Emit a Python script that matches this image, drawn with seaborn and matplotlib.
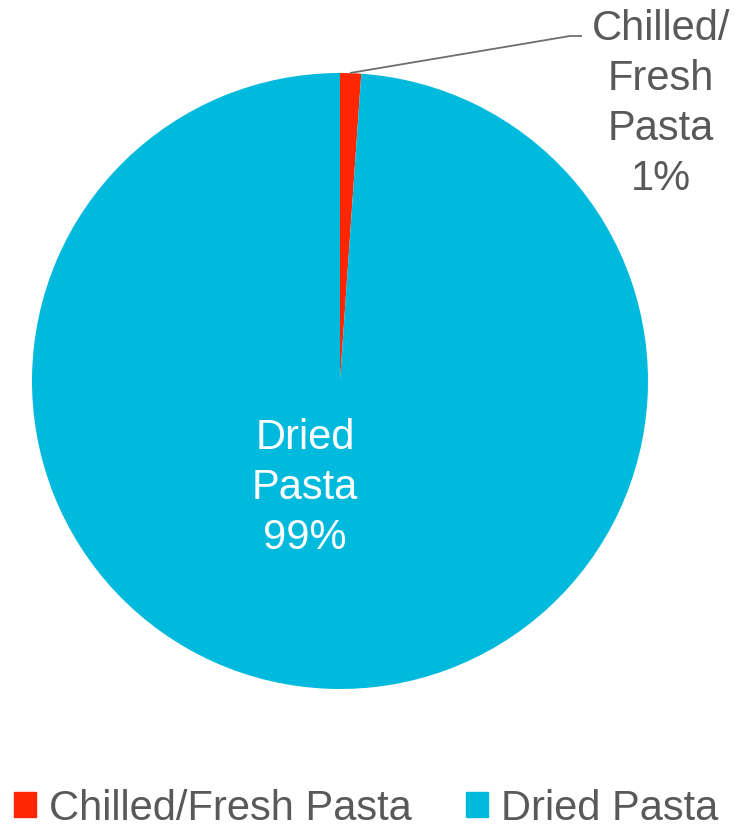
import matplotlib
matplotlib.use("Agg")
import matplotlib.pyplot as plt
import seaborn as sns

categories = ["Chilled/Fresh Pasta", "Dried Pasta"]
shares = [1.1, 98.9]
slice_colors = ["#FF2600", "#00BADE"]

sns.set_theme(style="white")
plt.rcParams["font.family"] = ["Liberation Sans", "DejaVu Sans"]
text_grey = "#595959"

fig = plt.figure(figsize=(7.43, 8.28), dpi=100)
W, H = 743, 828
cx, cy, r = 340, 382, 308
ax = fig.add_axes([(cx - r) / W, 1 - (cy + r) / H, 2 * r / W, 2 * r / H])

palette = sns.color_palette(slice_colors)
wedges, _ = ax.pie(shares, colors=palette, startangle=90, counterclock=False,
                   radius=1.0, wedgeprops=dict(linewidth=0))
ax.set_xlim(-1, 1)
ax.set_ylim(-1, 1)
ax.set_aspect("equal")
ax.axis("off")

def to_data(px, py):
    return ((px - cx) / r, (cy - py) / r)

# leader line for the small slice
p0 = to_data(350, 74)
p1 = to_data(570, 37)
p2 = to_data(582, 37)
ax.plot([p0[0], p1[0], p2[0]], [p0[1], p1[1], p2[1]], color="#6e6e6e", lw=1.3,
        clip_on=False, solid_capstyle="butt")

lx, ly = to_data(661, 104)
ax.text(lx, ly, "Chilled/\nFresh\nPasta\n{:.0f}%".format(shares[0]), ha="center", va="center",
        fontsize=30, color=text_grey, linespacing=1.32)

dx, dy = to_data(305, 488)
ax.text(dx, dy, "Dried\nPasta\n{:.0f}%".format(shares[1]), ha="center", va="center",
        fontsize=30, color="white", linespacing=1.32)

handles = [plt.Rectangle((0, 0), 1, 1, color=c) for c in palette]
fig.legend(handles, categories, loc="center left", bbox_to_anchor=(14 / W, 1 - 809 / H),
           ncol=2, frameon=False, fontsize=30, labelcolor=text_grey,
           borderpad=0, borderaxespad=0,
           handlelength=0.53, handleheight=0.53, handletextpad=0.3, columnspacing=1.32)

fig.savefig("out.png", dpi=100)
